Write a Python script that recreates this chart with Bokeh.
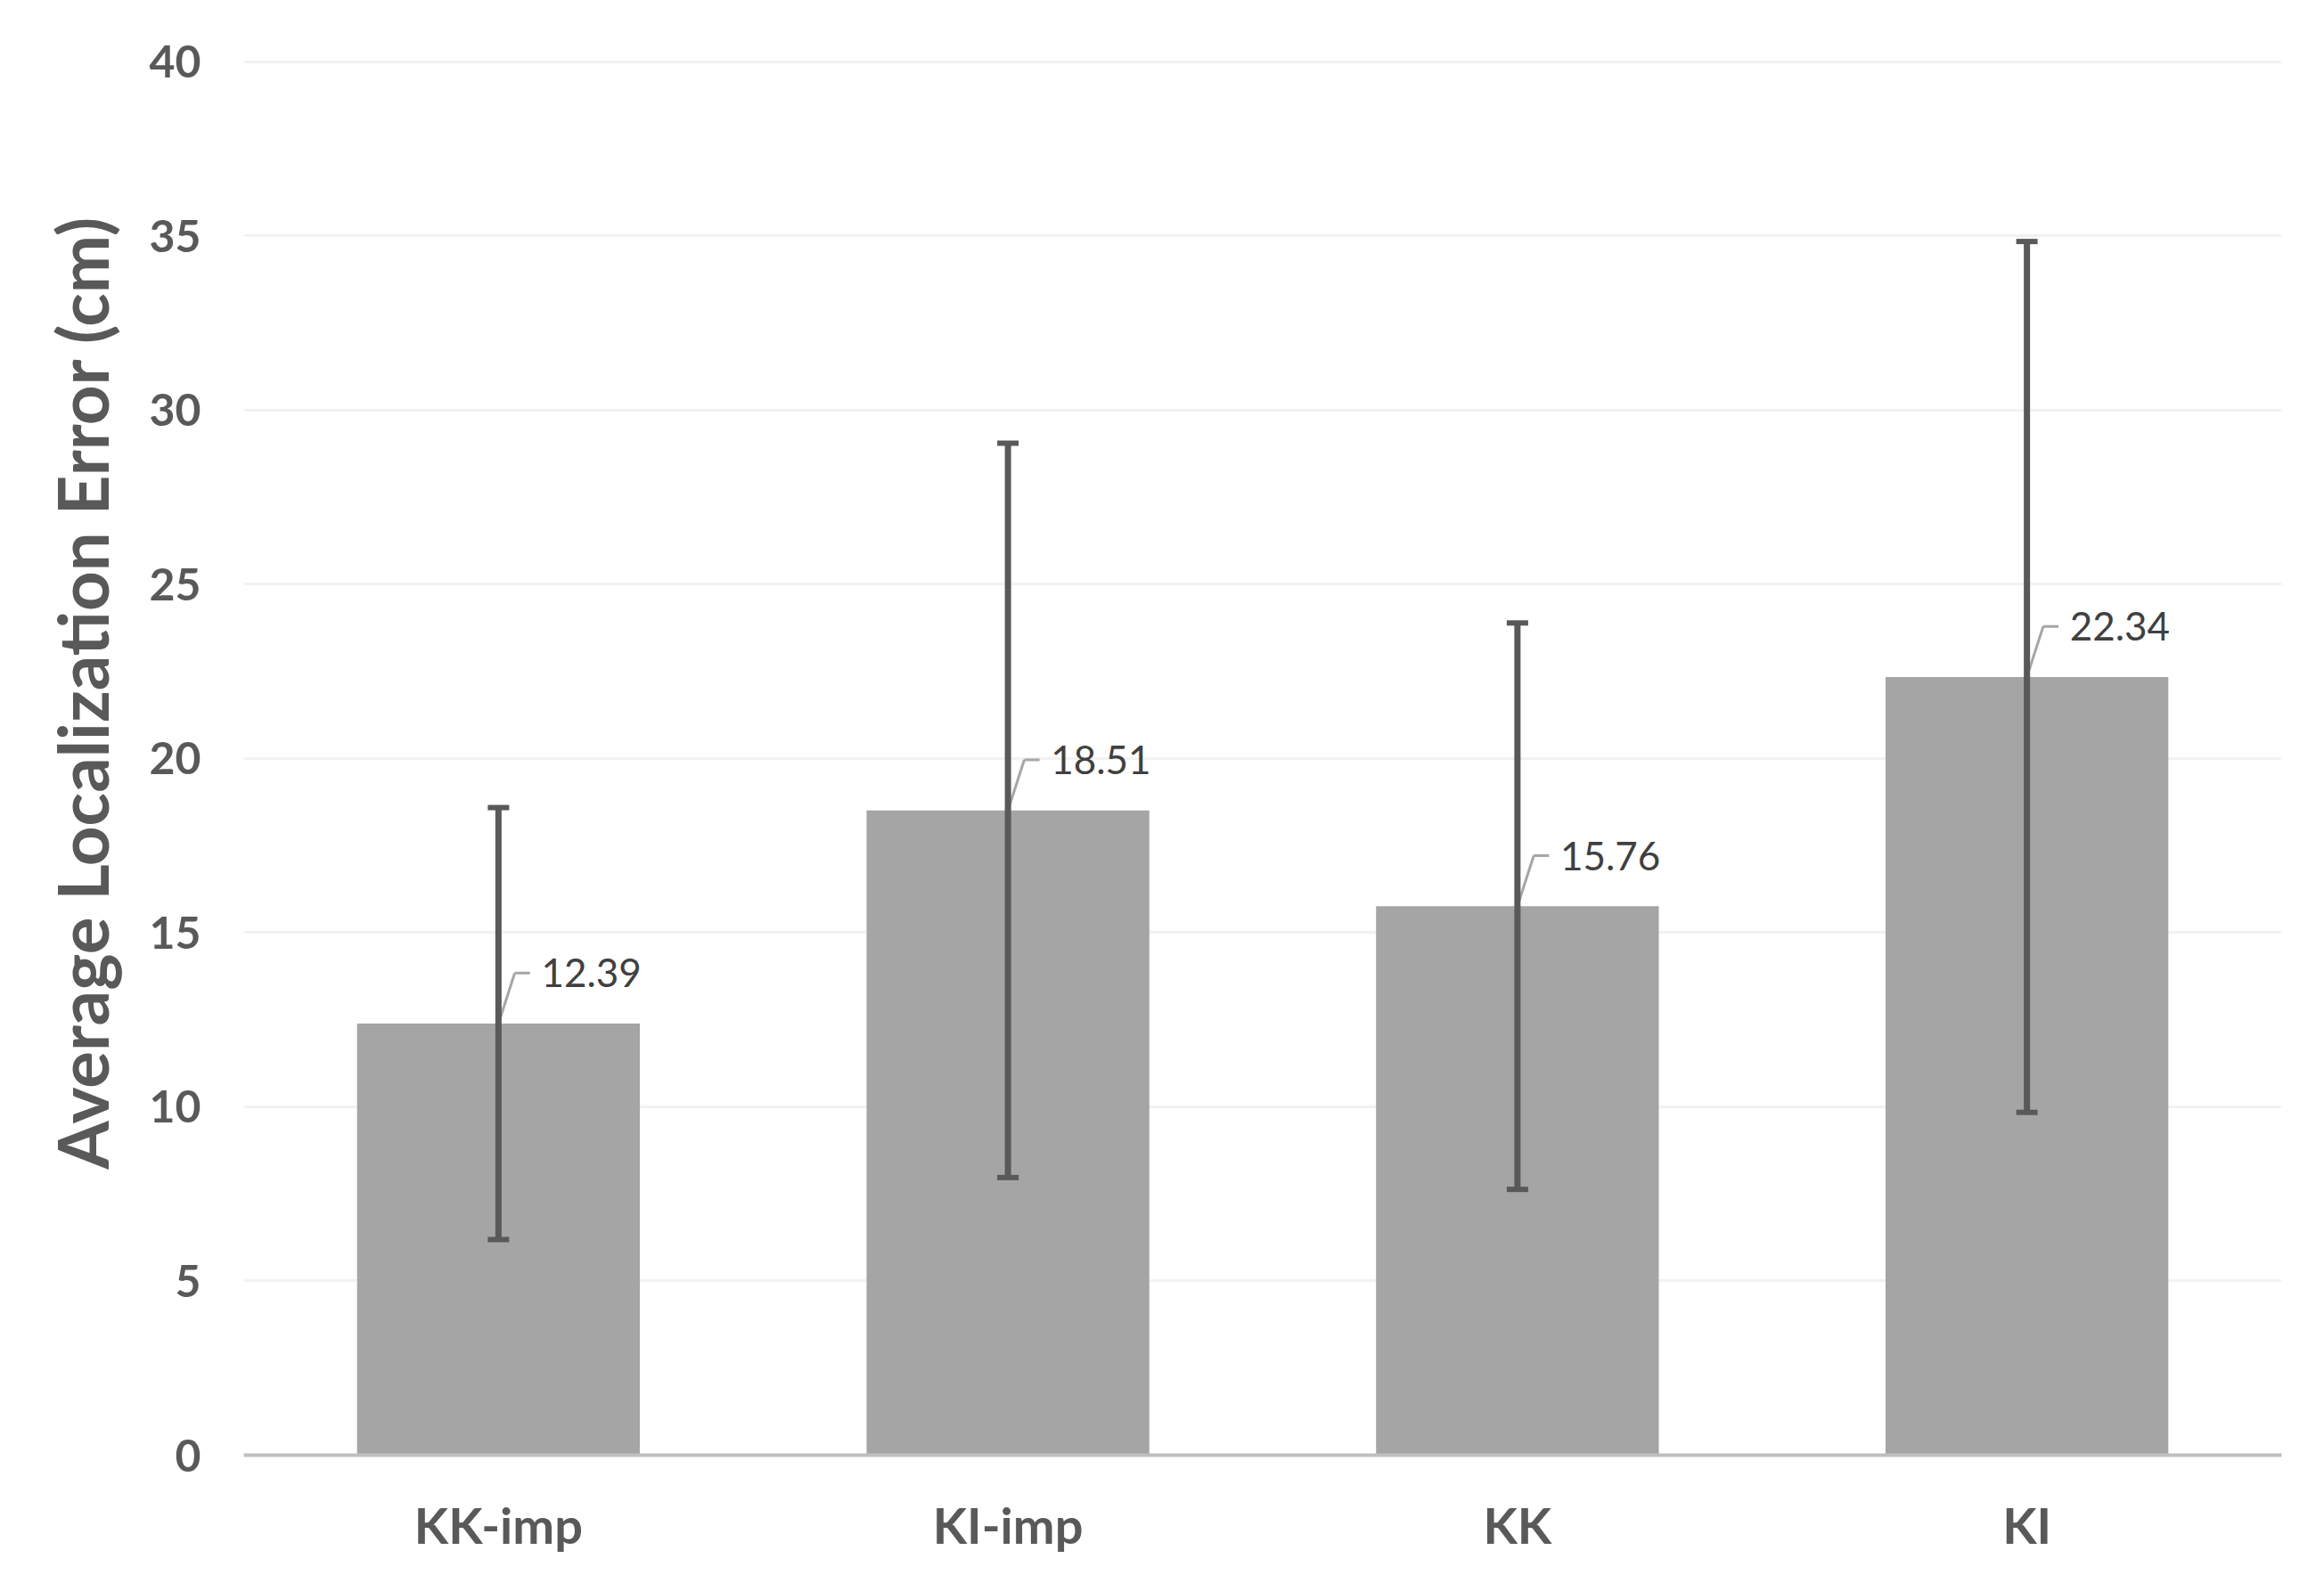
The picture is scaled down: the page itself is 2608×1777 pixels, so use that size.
from bokeh.plotting import figure
from bokeh.models import ColumnDataSource, FixedTicker, Whisker, TeeHead, Range1d, Title
from bokeh.core.properties import value
from bokeh.embed import file_html
from bokeh.resources import INLINE

categories = ["KK-imp", "KI-imp", "KK", "KI"]
means = [12.39, 18.51, 15.76, 22.34]
errors = [6.2, 10.54, 8.13, 12.5]
y_ticks = [0, 5, 10, 15, 20, 25, 30, 35, 40]
y_title = "Average Localization Error (cm)"

xs = list(range(len(categories)))
lower = [m - e for m, e in zip(means, errors)]
upper = [m + e for m, e in zip(means, errors)]
labels = ["%.2f" % m for m in means]

W, H = 2592, 1761
p = figure(width=W, height=H, output_backend="svg", toolbar_location=None,
           x_range=Range1d(-0.5, len(categories) - 0.5), y_range=Range1d(0, 40.2),
           min_border_left=273, min_border_right=32, min_border_top=61, min_border_bottom=128)
p.outline_line_color = None
p.background_fill_color = "white"
p.border_fill_color = "white"

src = ColumnDataSource(dict(x=xs, top=means, lower=lower, upper=upper, label=labels))

p.vbar(x="x", top="top", width=0.555, bottom=0, source=src, fill_color="#A5A5A5", line_color=None)

# leader lines for data labels
dy = 1.45
ddx = 0.032
hdx = 0.062
lx = [x + ddx for x in xs]
ly = [m + dy for m in means]
p.segment(x0=xs, y0=means, x1=lx, y1=ly, line_color="#A6A6A6", line_width=3)
p.segment(x0=lx, y0=ly, x1=[x + hdx for x in xs], y1=ly, line_color="#A6A6A6", line_width=3)
p.text(x=[x + 0.084 for x in xs], y=ly, text=labels, text_font=value("Lato"), text_font_size="44px",
       text_color="#404040", text_baseline="middle", text_align="left")

wh = Whisker(base="x", lower="lower", upper="upper", source=src, line_color="#595959", line_width=7,
             level="overlay",
             upper_head=TeeHead(size=24, line_color="#595959", line_width=6),
             lower_head=TeeHead(size=24, line_color="#595959", line_width=6))
p.add_layout(wh)

# axes
p.xaxis.ticker = FixedTicker(ticks=xs)
p.xaxis.major_label_overrides = {i: c for i, c in enumerate(categories)}
p.xaxis.major_label_text_font = "Lato"
p.xaxis.major_label_text_font_style = "bold"
p.xaxis.major_label_text_font_size = "56px"
p.xaxis.major_label_text_color = "#595959"
p.xaxis.major_label_standoff = 38
p.xaxis.axis_line_color = "#BFBFBF"
p.xaxis.axis_line_width = 4
p.xaxis.major_tick_line_color = None
p.xaxis.minor_tick_line_color = None

p.yaxis.ticker = FixedTicker(ticks=y_ticks)
p.yaxis.major_label_text_font = "Lato"
p.yaxis.major_label_text_font_style = "bold"
p.yaxis.major_label_text_font_size = "50px"
p.yaxis.major_label_text_color = "#595959"
p.yaxis.major_label_standoff = 42
p.yaxis.axis_line_color = None
p.yaxis.major_tick_line_color = None
p.yaxis.minor_tick_line_color = None

title = Title(text=y_title, align="left", offset=321, standoff=51,
              text_font="Lato", text_font_style="bold", text_font_size="78px", text_color="#595959")
p.add_layout(title, "left")

p.xgrid.grid_line_color = None
p.ygrid.grid_line_color = "#F2F2F2"
p.ygrid.grid_line_width = 3

open("out.html", "w").write(file_html(p, INLINE))
